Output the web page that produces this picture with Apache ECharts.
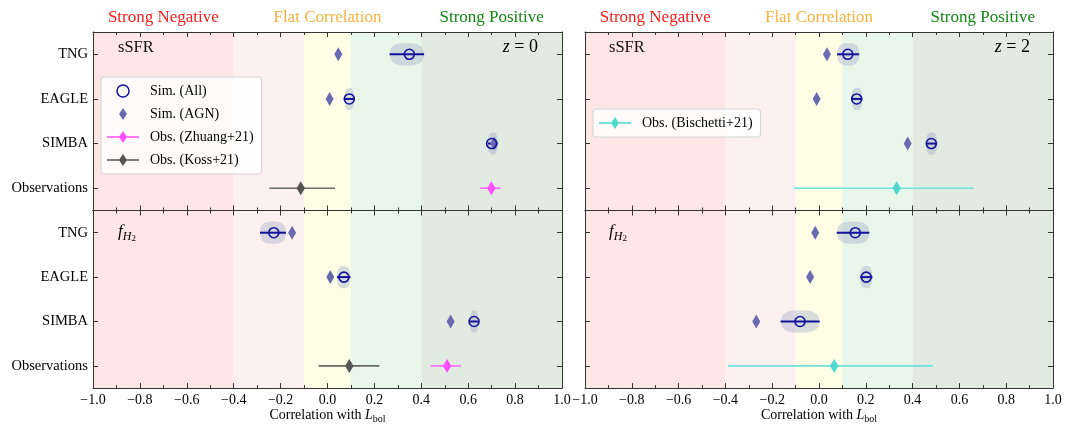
<!DOCTYPE html>
<html><head><meta charset="utf-8">
<script src="https://cdn.jsdelivr.net/npm/echarts@6/dist/echarts.min.js"></script>
<style>html,body{margin:0;padding:0;background:#fff}#c{width:1065px;height:425px}</style>
</head><body><div id="c"></div>
<script>
// ---------------- data ----------------
const categories = ['TNG', 'EAGLE', 'SIMBA', 'Observations'];
const bandEdges = [-1.0, -0.4, -0.1, 0.1, 0.4, 1.0];
const bandHeaders = ['Strong Negative', '', 'Flat Correlation', '', 'Strong Positive'];

// z = 0, sSFR  (TNG, EAGLE, SIMBA)
const z0_sSFR_all = [0.349, 0.093, 0.700];
const z0_sSFR_lo  = [0.265, 0.073, 0.684];
const z0_sSFR_hi  = [0.412, 0.113, 0.726];
const z0_sSFR_agn = [0.046, 0.009, 0.711];
const z0_sSFR_zhuang = [0.699, 0.650, 0.739];   // value, low, high
const z0_sSFR_koss   = [-0.114, -0.248, 0.032];

// z = 0, f_H2
const z0_fH2_all = [-0.229, 0.070, 0.625];
const z0_fH2_lo  = [-0.288, 0.040, 0.608];
const z0_fH2_hi  = [-0.177, 0.098, 0.643];
const z0_fH2_agn = [-0.151, 0.012, 0.525];
const z0_fH2_zhuang = [0.510, 0.440, 0.569];
const z0_fH2_koss   = [0.093, -0.038, 0.221];

// z = 2, sSFR
const z2_sSFR_all = [0.123, 0.161, 0.480];
const z2_sSFR_lo  = [0.077, 0.140, 0.457];
const z2_sSFR_hi  = [0.172, 0.185, 0.505];
const z2_sSFR_agn = [0.034, -0.010, 0.379];
const z2_sSFR_bischetti = [0.332, -0.106, 0.662];

// z = 2, f_H2
const z2_fH2_all = [0.155, 0.202, -0.081];
const z2_fH2_lo  = [0.076, 0.176, -0.164];
const z2_fH2_hi  = [0.215, 0.228, 0.003];
const z2_fH2_agn = [-0.016, -0.038, -0.268];
const z2_fH2_bischetti = [0.065, -0.388, 0.489];

// ---------------- styling ----------------
const SERIF = '"Liberation Serif", "Times New Roman", serif';
const bandColors = ['#fee5e6', '#fdf0f0', '#fefee7', '#e9f6ea', '#e2ebe2'];
const headerColors = ['#ff1a1a', '', '#fbb13a', '', '#118811'];
const NAVY = '#12129c';
const AGN_COLOR = '#6a6ab0';
const VIOLIN_FILL = 'rgba(140,152,190,0.32)';
const obsStyle = {
  'Obs. (Zhuang+21)':   {line: '#ff66ff', fill: '#ff4dff'},
  'Obs. (Koss+21)':     {line: '#6a6a6a', fill: '#555555'},
  'Obs. (Bischetti+21)':{line: '#6fe3da', fill: '#4fd8cf'}
};

const panels = [
  {all: z0_sSFR_all, lo: z0_sSFR_lo, hi: z0_sSFR_hi, agn: z0_sSFR_agn,
   obs: [['Obs. (Zhuang+21)', z0_sSFR_zhuang], ['Obs. (Koss+21)', z0_sSFR_koss]], top: true},
  {all: z0_fH2_all, lo: z0_fH2_lo, hi: z0_fH2_hi, agn: z0_fH2_agn,
   obs: [['Obs. (Zhuang+21)', z0_fH2_zhuang], ['Obs. (Koss+21)', z0_fH2_koss]], top: false},
  {all: z2_sSFR_all, lo: z2_sSFR_lo, hi: z2_sSFR_hi, agn: z2_sSFR_agn,
   obs: [['Obs. (Bischetti+21)', z2_sSFR_bischetti]], top: true},
  {all: z2_fH2_all, lo: z2_fH2_lo, hi: z2_fH2_hi, agn: z2_fH2_agn,
   obs: [['Obs. (Bischetti+21)', z2_fH2_bischetti]], top: false}
];

const grids = [
  {left: 93, top: 32, width: 469, height: 178.5},
  {left: 93, top: 210.5, width: 469, height: 178.5},
  {left: 585, top: 32, width: 468, height: 178.5},
  {left: 585, top: 210.5, width: 468, height: 178.5}
];

const AX = '#333';
const fmt = v => (v < -1e-9 ? '\u2212' : '') + Math.abs(v).toFixed(1);

const xAxes = [], yAxes = [], series = [];
panels.forEach((p, gi) => {
  const base = {
    type: 'value', gridIndex: gi, min: -1, max: 1, interval: 0.2, z: 5,
    splitLine: {show: false},
    axisLine: {show: true, onZero: false, lineStyle: {color: AX, width: 1}},
    axisTick: {show: true, inside: true, length: 5, lineStyle: {color: AX}},
    minorTick: {show: true, splitNumber: 2, length: 3, lineStyle: {color: AX}}
  };
  xAxes.push(Object.assign({}, base, {
    position: 'bottom',
    axisLabel: {show: !p.top, formatter: fmt, fontFamily: SERIF, fontSize: 14, color: '#000', margin: 5},
    name: p.top ? '' : '{n|Correlation with }{i|L}{s|bol}',
    nameLocation: 'middle', nameGap: 14,
    nameTextStyle: {
      color: '#000', fontFamily: SERIF, fontSize: 14,
      rich: {
        n: {fontFamily: SERIF, fontSize: 14, lineHeight: 18, color: '#000'},
        i: {fontFamily: SERIF, fontSize: 14, lineHeight: 18, fontStyle: 'italic', color: '#000'},
        s: {fontFamily: SERIF, fontSize: 10, lineHeight: 8, verticalAlign: 'bottom', color: '#000'}
      }
    }
  }));
  xAxes.push(Object.assign({}, base, {position: 'top', axisLabel: {show: false}}));
  const ybase = {
    type: 'category', gridIndex: gi, data: categories, inverse: true, boundaryGap: true, z: 5,
    axisLine: {show: true, onZero: false, lineStyle: {color: AX, width: 1}},
    axisTick: {show: true, inside: true, alignWithLabel: true, length: 5, lineStyle: {color: AX}},
    splitLine: {show: false}
  };
  yAxes.push(Object.assign({}, ybase, {
    position: 'left',
    axisLabel: {show: gi < 2, fontFamily: SERIF, fontSize: 14.5, color: '#000', margin: 5}
  }));
  yAxes.push(Object.assign({}, ybase, {position: 'right', axisLabel: {show: false}}));

  const xi = 2 * gi, yi = 2 * gi;

  // background bands
  const areas = [];
  for (let b = 0; b < bandColors.length; b++) {
    areas.push([
      {xAxis: bandEdges[b], itemStyle: {color: bandColors[b]},
       label: {show: p.top && bandHeaders[b] !== '', position: 'top', distance: 6,
               formatter: bandHeaders[b], color: headerColors[b] || '#000',
               fontFamily: SERIF, fontSize: 17}},
      {xAxis: bandEdges[b + 1]}
    ]);
  }
  series.push({
    type: 'line', xAxisIndex: xi, yAxisIndex: yi, data: [], z: 0, silent: true,
    markArea: {silent: true, data: areas}
  });

  // violins + extent bars
  series.push({
    type: 'custom', name: 'violin' + gi, xAxisIndex: xi, yAxisIndex: yi, z: 2, silent: true,
    data: p.all.map((v, i) => [v, p.lo[i], p.hi[i], i]),
    encode: {x: [0, 1, 2], y: 3},
    renderItem: (params, api) => {
      const lo = api.value(1), hi = api.value(2), ci = api.value(3);
      const a = api.coord([lo, ci]), b = api.coord([hi, ci]);
      const H = api.size([0, 1])[1] * 0.25;
      const N = 40, up = [], dn = [];
      for (let k = 0; k <= N; k++) {
        const t = -1 + 2 * k / N;
        const x = a[0] + (b[0] - a[0]) * (t + 1) / 2;
        const h = H * Math.pow(Math.max(0, 1 - Math.pow(Math.abs(t), 3)), 0.45);
        up.push([x, a[1] - h]);
        dn.unshift([x, a[1] + h]);
      }
      return {type: 'group', children: [
        {type: 'polygon', shape: {points: up.concat(dn)}, style: {fill: VIOLIN_FILL}},
        {type: 'line', shape: {x1: a[0], y1: a[1], x2: b[0], y2: b[1]}, style: {stroke: NAVY, lineWidth: 2}}
      ]};
    }
  });

  // AGN diamonds
  series.push({
    type: 'scatter', name: 'Sim. (AGN)', xAxisIndex: xi, yAxisIndex: yi, z: 3,
    symbol: 'diamond', symbolSize: [8, 14],
    itemStyle: {color: AGN_COLOR, opacity: 1},
    data: p.agn.map((v, i) => [v, i])
  });
  // All-sim open circles
  series.push({
    type: 'scatter', name: 'Sim. (All)', xAxisIndex: xi, yAxisIndex: yi, z: 4,
    symbol: 'circle', symbolSize: 10,
    itemStyle: {color: 'rgba(0,0,0,0)', borderColor: NAVY, borderWidth: 1.6, opacity: 1},
    data: p.all.map((v, i) => [v, i])
  });
  // observations
  p.obs.forEach(([name, vals]) => {
    const st = obsStyle[name];
    series.push({
      type: 'custom', name: name, xAxisIndex: xi, yAxisIndex: yi, z: 3,
      itemStyle: {color: st.fill},
      data: [[vals[0], vals[1], vals[2], 3]],
      encode: {x: [0, 1, 2], y: 3},
      renderItem: (params, api) => {
        const c = api.coord([api.value(0), api.value(3)]);
        const a = api.coord([api.value(1), api.value(3)]);
        const b = api.coord([api.value(2), api.value(3)]);
        return {type: 'group', children: [
          {type: 'line', shape: {x1: a[0], y1: a[1], x2: b[0], y2: b[1]}, style: {stroke: st.line, lineWidth: 1.6}},
          {type: 'polygon', shape: {points: [[c[0], c[1] - 7], [c[0] + 4.2, c[1]], [c[0], c[1] + 7], [c[0] - 4.2, c[1]]]},
           style: {fill: st.fill}}
        ]};
      }
    });
  });
});

const obsIcon = 'path://M0,5.2L12.5,5.2L16,0L19.5,5.2L32,5.2L32,6.8L19.5,6.8L16,12L12.5,6.8L0,6.8Z';
const diamondIcon = 'path://M16,0L20,6L16,12L12,6Z';
const legendBase = {
  orient: 'vertical', itemWidth: 32, itemHeight: 12, itemGap: 9,
  padding: [7, 8, 7, 6],
  backgroundColor: 'rgba(255,255,255,0.82)', borderColor: '#d4d4d4', borderWidth: 1, borderRadius: 3,
  textStyle: {fontFamily: SERIF, fontSize: 14, color: '#000', padding: [0, 0, 0, 6]},
  selectedMode: false
};
const legends = [
  Object.assign({}, legendBase, {
    left: 101, top: 77,
    data: [
      {name: 'Sim. (All)', icon: 'circle', itemStyle: {color: 'rgba(0,0,0,0)', borderColor: NAVY, borderWidth: 1.5}},
      {name: 'Sim. (AGN)', icon: diamondIcon, itemStyle: {color: AGN_COLOR}},
      {name: 'Obs. (Zhuang+21)', icon: obsIcon, itemStyle: {color: obsStyle['Obs. (Zhuang+21)'].fill}},
      {name: 'Obs. (Koss+21)', icon: obsIcon, itemStyle: {color: obsStyle['Obs. (Koss+21)'].fill}}
    ]
  }),
  Object.assign({}, legendBase, {
    left: 593, top: 109,
    data: [{name: 'Obs. (Bischetti+21)', icon: obsIcon, itemStyle: {color: obsStyle['Obs. (Bischetti+21)'].fill}}]
  })
];

const richZ = {
  i: {fontFamily: SERIF, fontSize: 18, fontStyle: 'italic', color: '#111'},
  n: {fontFamily: SERIF, fontSize: 18, color: '#111'}
};
const richF = {
  f: {fontFamily: SERIF, fontSize: 17, fontStyle: 'italic', lineHeight: 22, color: '#111'},
  h: {fontFamily: SERIF, fontSize: 12, fontStyle: 'italic', lineHeight: 12, verticalAlign: 'bottom', color: '#111'},
  t: {fontFamily: SERIF, fontSize: 9, lineHeight: 6, verticalAlign: 'bottom', color: '#111'}
};
const graphics = [];
[[118, 48], [609, 48]].forEach(([x, y]) => graphics.push({type: 'text', x, y, z: 10,
  style: {text: 'sSFR', font: '16.5px ' + SERIF, fill: '#111', verticalAlign: 'middle'}}));
[[118, 232], [609, 232]].forEach(([x, y]) => graphics.push({type: 'text', x, y, z: 10,
  style: {text: '{f|f}{h|H}{t|2}', rich: richF, verticalAlign: 'middle'}}));
[[538, 47, '0'], [1030, 47, '2']].forEach(([x, y, z]) => graphics.push({type: 'text', x, y, z: 10,
  style: {text: '{i|z}{n| = ' + z + '}', rich: richZ, align: 'right', verticalAlign: 'middle'}}));

const chart = echarts.init(document.getElementById('c'));
chart.setOption({
  animation: false,
  backgroundColor: '#fff',
  grid: grids,
  xAxis: xAxes,
  yAxis: yAxes,
  legend: legends,
  graphic: graphics,
  series: series
});
</script></body></html>
